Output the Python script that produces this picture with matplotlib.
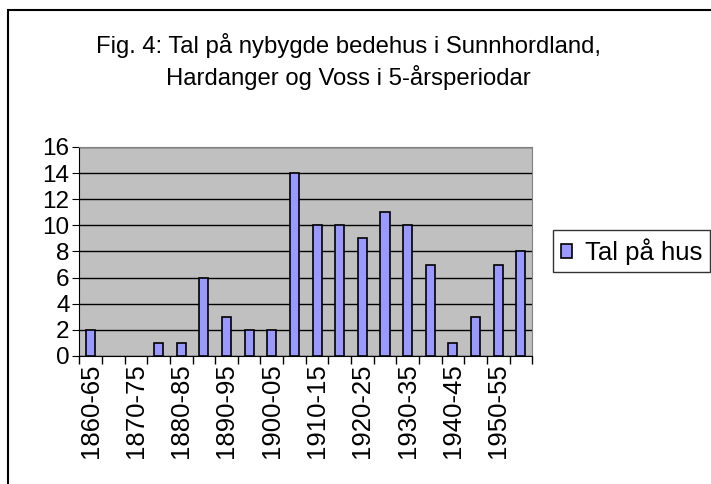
import matplotlib.pyplot as plt
from matplotlib.patches import Rectangle

plt.rcParams['font.family'] = ['Liberation Sans', 'DejaVu Sans']

# 5-year periods, 1860-65 .. 1955-60
periods = ['1860-65', '1865-70', '1870-75', '1875-80', '1880-85', '1885-90',
           '1890-95', '1895-00', '1900-05', '1905-10', '1910-15', '1915-20',
           '1920-25', '1925-30', '1930-35', '1935-40', '1940-45', '1945-50',
           '1950-55', '1955-60']
houses = [2, 0, 0, 1, 1, 6, 3, 2, 2, 14, 10, 10, 9, 11, 10, 7, 1, 3, 7, 8]
yticks = [0, 2, 4, 6, 8, 10, 12, 14, 16]

fig = plt.figure(figsize=(7.11, 4.84), dpi=100)
ax = fig.add_axes([0.1115, 0.2645, 0.637, 0.432])

x = range(len(periods))
lw = [1.2 if v > 0 else 0 for v in houses]
ax.bar(x, houses, width=0.4, color='#9999FF', edgecolor='black',
       linewidth=lw, label='Tal på hus', zorder=3)

ax.set_facecolor('#C0C0C0')
ax.set_xlim(-0.5, len(periods) - 0.5)
ax.set_ylim(0, 16)
ax.set_yticks(yticks)
ax.yaxis.grid(True, color='black', linewidth=1, zorder=1)
ax.tick_params(axis='y', labelsize=17.5, length=5, direction='out', pad=2)

# labels on every second period, tick marks on category borders
ax.set_xticks(list(x)[::2])
ax.set_xticklabels(periods[::2], rotation=90, fontsize=18.5)
ax.tick_params(axis='x', which='major', length=0, pad=5.5)
ax.set_xticks([i - 0.5 for i in range(len(periods) + 1)], minor=True)
ax.tick_params(axis='x', which='minor', length=6, direction='out', width=1)

for s in ['top', 'right']:
    ax.spines[s].set_color('#808080')
for s in ['left', 'bottom']:
    ax.spines[s].set_color('black')

fig.text(0.49, 0.873, 'Fig. 4: Tal på nybygde bedehus i Sunnhordland,\nHardanger og Voss i 5-årsperiodar',
         ha='center', va='center', fontsize=17.2, linespacing=1.35)

leg = ax.legend(loc='center left', bbox_to_anchor=(1.046, 0.5), fontsize=18.5,
                frameon=True, fancybox=False, handlelength=0.45, handleheight=0.45,
                handletextpad=0.5, borderpad=0.3, borderaxespad=0)
leg.get_frame().set_edgecolor('black')
leg.get_frame().set_linewidth(1)

fig.patches.append(Rectangle((0.0113, -0.05), 1.1, 0.029 + 1.0, transform=fig.transFigure,
                             fill=False, edgecolor='black', linewidth=1.5))

fig.savefig('out.png', dpi=100)
